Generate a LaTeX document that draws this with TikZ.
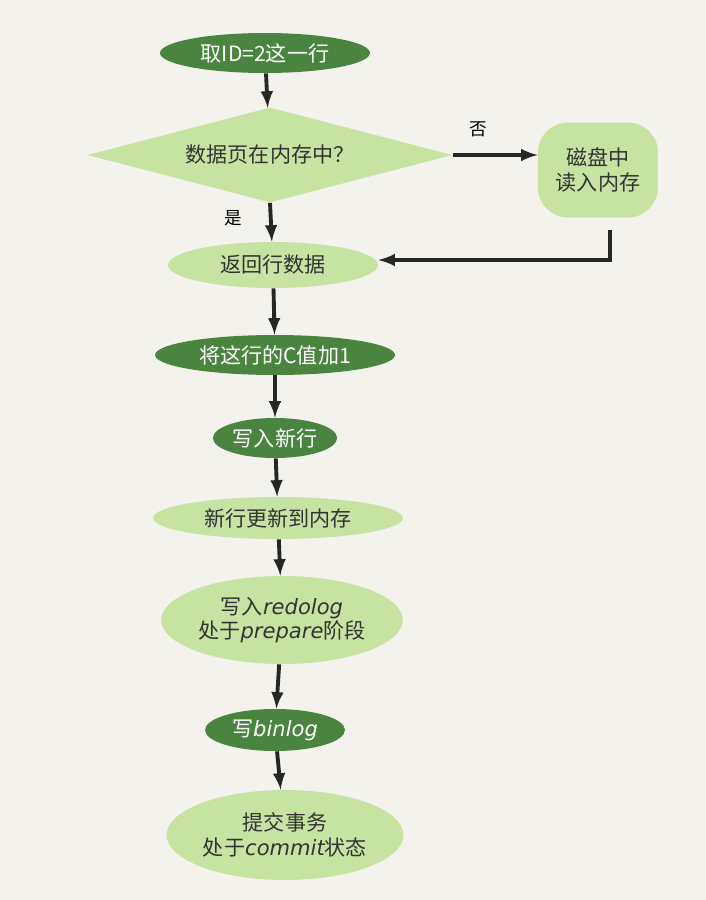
\documentclass[tikz,border=0pt]{standalone}
\usepackage{fontspec}
\setmainfont{Noto Sans CJK SC}
\newfontfamily\latfont{DejaVu Sans}
\newcommand{\en}[1]{{\latfont\itshape #1}}
\usetikzlibrary{shapes.geometric}
\definecolor{bg}{HTML}{F3F2EC}
\definecolor{dk}{HTML}{4A8540}
\definecolor{lt}{HTML}{C6E3A2}
\tikzstyle{dn}=[shape=ellipse,fill=dk,text=white,inner sep=1pt,font=\large]
\tikzstyle{ln}=[shape=ellipse,fill=lt,text=black!80,inner sep=1pt,font=\large,align=center]
\tikzstyle{to}=[->,>=latex,line width=2.2pt,black!85]
\begin{document}
\begin{tikzpicture}[x=0.02cm,y=-0.02cm]
        \fill[bg] (0,0) rectangle (706,900);
        \useasboundingbox (0,0) rectangle (706,900);
        \node[dn,minimum width=4.2cm,minimum height=0.8cm] (A) at (265,53) {取ID=2这一行}
        ;
        \node[ln,shape=diamond,minimum width=7.3cm,minimum height=1.9cm,aspect=3.8,inner sep=0pt] (B) at (270,155) {数据页在内存中？}
        ;
        \node[ln,shape=rectangle,rounded corners=0.6cm,minimum width=2.4cm,minimum height=1.9cm] (C) at (598,170) {磁盘中\\读入内存}
        ;
        \node[ln,minimum width=4.2cm,minimum height=0.92cm] (D) at (273,265) {返回行数据}
        ;
        \node[dn,minimum width=4.8cm,minimum height=0.8cm] (E) at (275,355) {将这行的C值加1}
        ;
        \node[dn,minimum width=2.2cm,minimum height=0.8cm] (F) at (275,438) {写入新行}
        ;
        \node[ln,minimum width=5cm,minimum height=0.84cm] (G) at (278,518) {新行更新到内存}
        ;
        \node[ln,minimum width=4cm,minimum height=1.76cm] (H) at (282,620) {写入\en{redolog}\\处于\en{prepare}阶段}
        ;
        \node[dn,minimum width=2.8cm,minimum height=0.84cm] (I) at (275,730) {写\en{binlog}}
        ;
        \node[ln,minimum width=4.1cm,minimum height=1.8cm] (J) at (285,835) {提交事务\\处于\en{commit}状态}
        ;
        \coordinate (P) at (610,230);
        \coordinate (Q) at (610,260);
        \draw[to] (A) -- (B);
        \draw[to] (B.east) -- node[above=6pt,pos=0.3,black] {否} (C.west |- B.east);
        \draw[to] (B.south) -- node[left=12pt,pos=0.4,black] {是} (D);
        \draw[to] (P) -- (Q) -- (D.east |- Q);
        \draw[to] (D) -- (E);
        \draw[to] (E) -- (F);
        \draw[to] (F) -- (G);
        \draw[to] (G) -- (H);
        \draw[to] (H) -- (I);
        \draw[to] (I) -- (J);
    \end{tikzpicture}
\end{document}
